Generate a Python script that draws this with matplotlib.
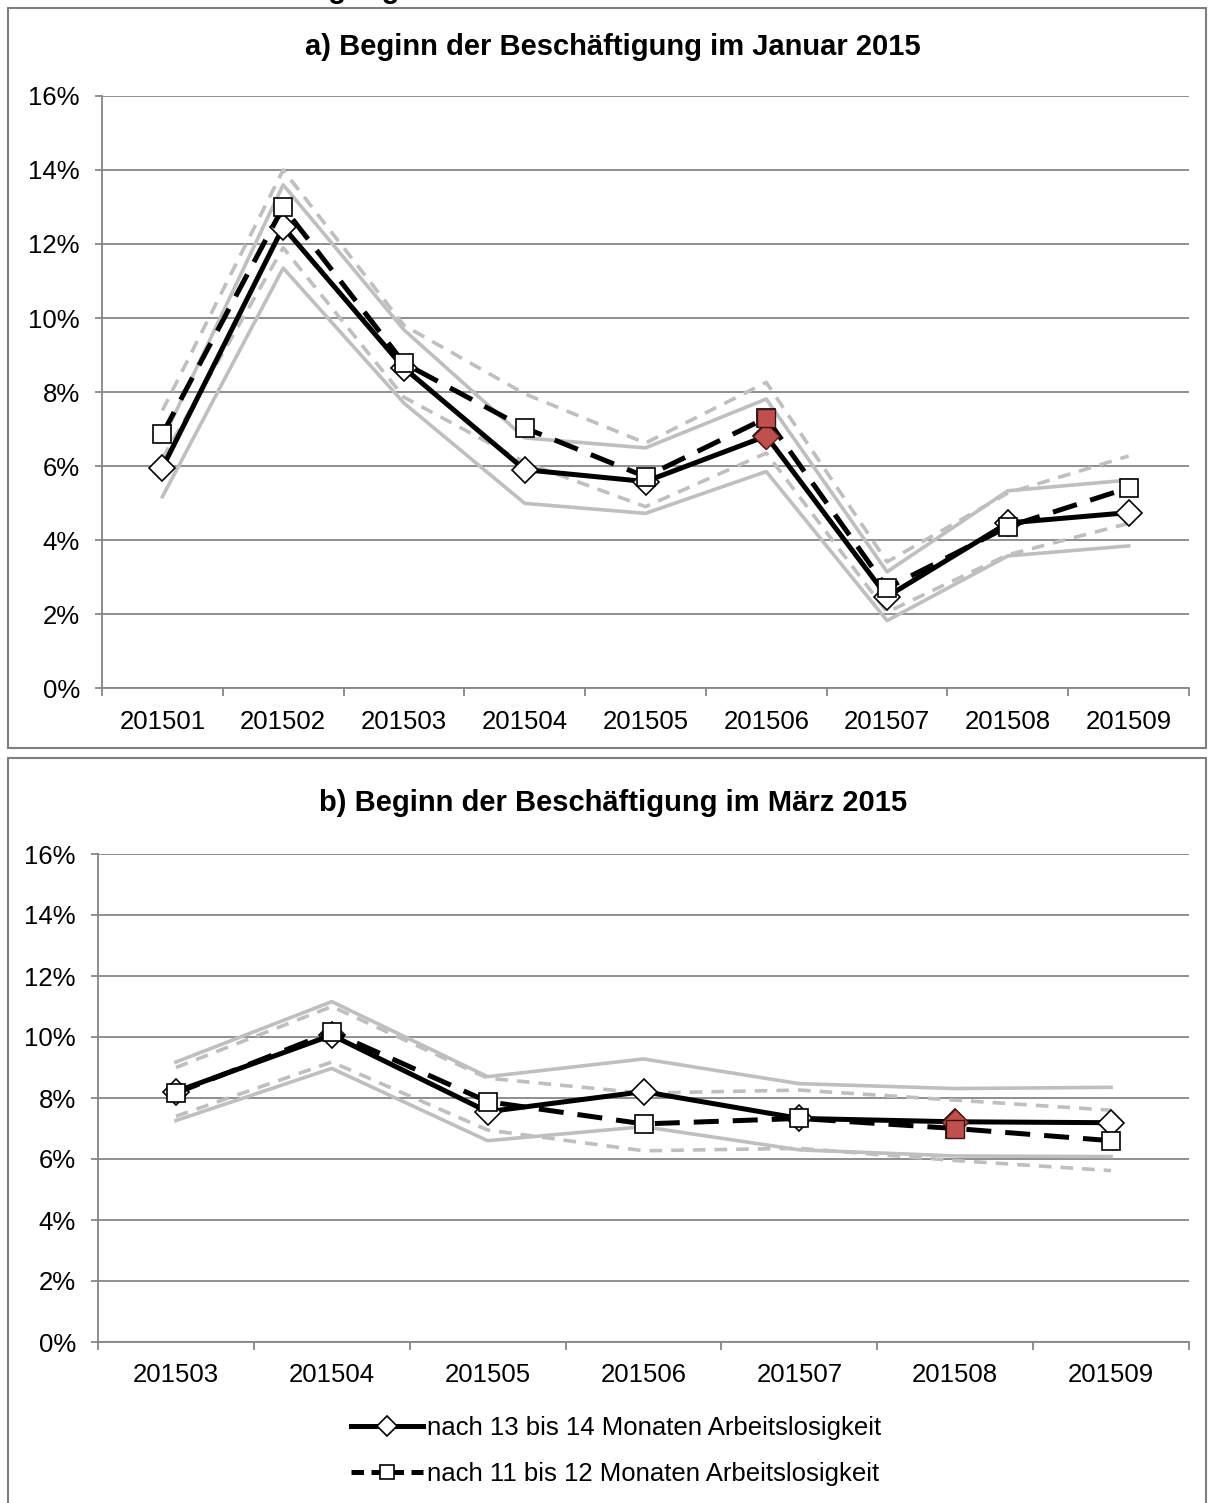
import matplotlib
matplotlib.use("Agg")
import matplotlib.pyplot as plt
from matplotlib.patches import Rectangle
from matplotlib.lines import Line2D
from matplotlib.ticker import FixedLocator, FuncFormatter

plt.rcParams['font.family'] = ['Liberation Sans', 'DejaVu Sans']

# panel a: start of employment January 2015 (values in %)
a_months = ['201501', '201502', '201503', '201504', '201505', '201506', '201507', '201508', '201509']
a_13_14 = [5.95, 12.46, 8.65, 5.9, 5.58, 6.81, 2.47, 4.46, 4.74]
a_13_14_hi = [6.7, 13.6, 9.68, 6.76, 6.49, 7.81, 3.14, 5.33, 5.62]
a_13_14_lo = [5.17, 11.35, 7.7, 4.99, 4.72, 5.85, 1.82, 3.57, 3.84]
a_11_12 = [6.86, 13.0, 8.78, 7.03, 5.71, 7.3, 2.7, 4.36, 5.41]
a_11_12_hi = [7.5, 14.0, 9.8, 7.95, 6.62, 8.26, 3.41, 5.27, 6.27]
a_11_12_lo = [6.2, 11.9, 7.86, 6.1, 4.9, 6.35, 2.05, 3.6, 4.45]
a_red = 5

# panel b: start of employment March 2015
b_months = ['201503', '201504', '201505', '201506', '201507', '201508', '201509']
b_13_14 = [8.21, 10.06, 7.55, 8.21, 7.33, 7.22, 7.19]
b_13_14_hi = [9.18, 11.16, 8.7, 9.28, 8.47, 8.31, 8.35]
b_13_14_lo = [7.26, 8.97, 6.6, 7.06, 6.3, 6.1, 6.08]
b_11_12 = [8.16, 10.17, 7.88, 7.15, 7.33, 7.0, 6.6]
b_11_12_hi = [9.0, 11.0, 8.65, 8.16, 8.26, 7.93, 7.6]
b_11_12_lo = [7.4, 9.18, 6.95, 6.27, 6.35, 5.95, 5.62]
b_red = 5

label_13_14 = 'nach 13 bis 14 Monaten Arbeitslosigkeit'
label_11_12 = 'nach 11 bis 12 Monaten Arbeitslosigkeit'

W, H = 1208, 1503
GRID = '#868686'
CI = '#BFBFBF'
RED = '#C0504D'

fig = plt.figure(figsize=(W / 100, H / 100), dpi=100)


def px_axes(left, top, right, bottom):
    return fig.add_axes([left / W, 1 - bottom / H, (right - left) / W, (bottom - top) / H])


def panel(ax, months, s1, s1_hi, s1_lo, s2, s2_hi, s2_lo, red, xpad):
    x = list(range(len(months)))
    # confidence bands
    ax.plot(x, s1_hi, color=CI, lw=2.6, zorder=2)
    ax.plot(x, s1_lo, color=CI, lw=2.6, zorder=2)
    ax.plot(x, s2_hi, color=CI, lw=2.6, ls=(0, (3.5, 2.5)), zorder=2)
    ax.plot(x, s2_lo, color=CI, lw=2.6, ls=(0, (3.5, 2.5)), zorder=2)
    # main series
    ax.plot(x, s1, color='black', lw=3.6, marker='D', ms=13.5, mfc='white',
            mec='black', mew=1.2, zorder=4)
    ax.plot(x, s2, color='black', lw=3.6, ls=(0, (5, 2.8)), marker='s', ms=12.5,
            mfc='white', mec='black', mew=1.2, zorder=5)
    # highlighted month
    ax.plot([x[red]], [s1[red]], ls='none', marker='D', ms=13.5, mfc=RED,
            mec='#5a1f1d', mew=1.0, zorder=6)
    ax.plot([x[red]], [s2[red]], ls='none', marker='s', ms=12.5, mfc=RED,
            mec='#3a1414', mew=1.0, zorder=7)

    n = len(months)
    ax.set_xlim(-0.5, n - 0.5)
    ax.set_ylim(0, 16)
    ax.set_yticks(range(0, 17, 2))
    ax.yaxis.set_major_formatter(FuncFormatter(lambda v, p: '%d%%' % v))
    ax.set_xticks(x)
    ax.set_xticklabels(months)
    ax.xaxis.set_minor_locator(FixedLocator([i - 0.5 for i in range(n + 1)]))
    ax.tick_params(axis='x', which='major', length=0, pad=xpad, labelsize=18.5)
    ax.tick_params(axis='x', which='minor', length=6, width=1.3, color=GRID, direction='out')
    ax.tick_params(axis='y', which='major', length=5, width=1.3, color=GRID, pad=11, labelsize=18.5)
    ax.grid(axis='y', color=GRID, lw=1.3, zorder=0)
    ax.set_axisbelow(True)
    for side in ['top', 'right']:
        ax.spines[side].set_visible(False)
    for side in ['left', 'bottom']:
        ax.spines[side].set_color(GRID)
        ax.spines[side].set_linewidth(1.3)


# panel frames
fig.patches.append(Rectangle((8 / W, 1 - 748 / H), 1198 / W, 740 / H, transform=fig.transFigure,
                             fill=False, ec='#7f7f7f', lw=1.5))
fig.patches.append(Rectangle((8 / W, -0.02), 1198 / W, 1 - 758 / H + 0.02, transform=fig.transFigure,
                             fill=False, ec='#7f7f7f', lw=1.5))

# heading of the page, cut off at the top edge as in the source
fig.text(197 / W, 1 + 2.5 / H, 'Beschäftigung', fontsize=21, fontweight='bold',
         ha='left', va='baseline')

ax1 = px_axes(102, 96, 1189, 688)
panel(ax1, a_months, a_13_14, a_13_14_hi, a_13_14_lo, a_11_12, a_11_12_hi, a_11_12_lo, a_red, 16)
fig.text(613 / W, 1 - 47 / H, 'a) Beginn der Beschäftigung im Januar 2015', fontsize=21,
         fontweight='bold', ha='center', va='center')

ax2 = px_axes(98, 854, 1189, 1342)
panel(ax2, b_months, b_13_14, b_13_14_hi, b_13_14_lo, b_11_12, b_11_12_hi, b_11_12_lo, b_red, 15)
fig.text(613 / W, 1 - 803 / H, 'b) Beginn der Beschäftigung im März 2015', fontsize=21,
         fontweight='bold', ha='center', va='center')

handles = [
    Line2D([], [], color='black', lw=3.6, marker='D', ms=10, mfc='white', mec='black', mew=1.2),
    Line2D([], [], color='black', lw=3.6, ls=(0, (2.5, 1.5)), marker='s', ms=10, mfc='white',
           mec='black', mew=1.2),
]
fig.legend(handles, [label_13_14, label_11_12], loc='center', bbox_to_anchor=(616 / W, 1 - 1451 / H),
           frameon=False, fontsize=18.5, handlelength=2.8, handletextpad=0.15, labelspacing=0.86,
           borderpad=0)

fig.savefig('out.png', dpi=100)
